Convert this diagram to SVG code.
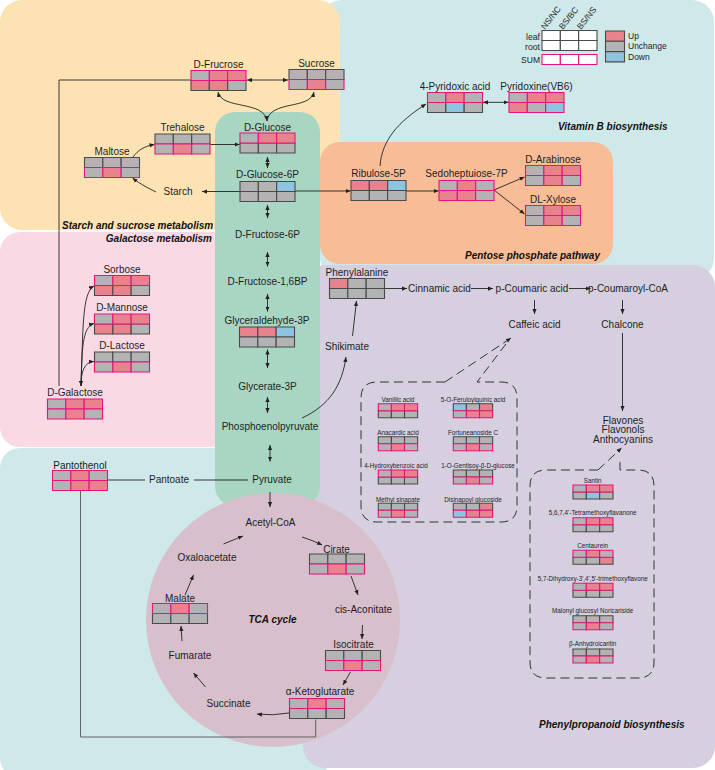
<svg xmlns="http://www.w3.org/2000/svg" width="715" height="770" viewBox="0 0 715 770">
<style>
.t{font-family:"Liberation Sans",Arial,sans-serif;font-size:10px;fill:#1e1e1e;text-anchor:middle}
.s{font-size:6.3px}
.h{font-family:"Liberation Sans",Arial,sans-serif;font-size:10px;font-weight:bold;font-style:italic;fill:#111}
.l{font-family:"Liberation Sans",Arial,sans-serif;font-size:8.5px;fill:#1e1e1e}
rect.g{fill:#b3b3b3}.p{fill:#e8838e}.b{fill:#8ec4df}.w{fill:#fff}
.d rect{stroke:#4a4a4a;stroke-width:1.1;vector-effect:non-scaling-stroke}
.m rect{stroke:#e4157f;stroke-width:1.1;vector-effect:non-scaling-stroke}
.c path{fill:none;stroke:#222;stroke-width:0.9}
.dash path{fill:none;stroke:#333;stroke-width:1;stroke-dasharray:9 5}
</style>
<defs>
<marker id="a" viewBox="0 0 8 8" refX="8" refY="4" markerWidth="5" markerHeight="5" orient="auto-start-reverse" markerUnits="userSpaceOnUse"><path d="M0,0.6 L8,4 L0,7.4 z" fill="#222"/></marker>
</defs>

<!-- background regions -->
<g id="regions">
<rect x="320" y="0" width="394" height="280" rx="22" fill="#cfe8ea"/>
<rect x="0" y="448" width="330" height="330" rx="20" fill="#cfe8ea"/>
<rect x="0" y="0" width="340" height="230" rx="22" fill="#fde2b3"/>
<rect x="0" y="232" width="260" height="215" rx="20" fill="#f8d9e4"/>
<rect x="303" y="265" width="412" height="503" rx="22" fill="#d5cfe0"/>
<rect x="320" y="142" width="293" height="122" rx="20" fill="#f8bc96"/>
<rect x="215" y="112" width="105" height="394" rx="20" fill="#a9d6c3"/>
<circle cx="273" cy="620" r="127" fill="#d7bfcb"/>
</g>

<!-- legend -->
<g id="legend">
<text class="l" font-size="8" transform="translate(545,30) rotate(-52)">NS/NC</text>
<text class="l" font-size="8" transform="translate(563,30) rotate(-52)">BS/BC</text>
<text class="l" font-size="8" transform="translate(581,30) rotate(-52)">BS/NS</text>
<text class="l" x="540" y="39.5" text-anchor="end" font-size="9.5" textLength="14" lengthAdjust="spacingAndGlyphs">leaf</text>
<text class="l" x="540" y="49.5" text-anchor="end" font-size="9.5" textLength="15" lengthAdjust="spacingAndGlyphs">root</text>
<text class="l" x="540" y="62.5" text-anchor="end" font-size="7">SUM</text>
<g class="d"><rect class="w" x="542" y="30.5" width="18.33" height="10"/><rect class="w" x="560.33" y="30.5" width="18.33" height="10"/><rect class="w" x="578.67" y="30.5" width="18.33" height="10"/>
<rect class="w" x="542" y="40.5" width="18.33" height="10"/><rect class="w" x="560.33" y="40.5" width="18.33" height="10"/><rect class="w" x="578.67" y="40.5" width="18.33" height="10"/></g>
<g class="m"><rect class="w" x="542" y="54.5" width="18.33" height="10"/><rect class="w" x="560.33" y="54.5" width="18.33" height="10"/><rect class="w" x="578.67" y="54.5" width="18.33" height="10"/></g>
<g class="d"><rect class="p" x="605.5" y="31" width="19" height="10.3"/><rect class="g" x="605.5" y="41.3" width="19" height="10.3"/><rect class="b" x="605.5" y="51.6" width="19" height="10.3"/></g>
<text class="l" x="628" y="39">Up</text>
<text class="l" x="628" y="49.3">Unchange</text>
<text class="l" x="628" y="59.6">Down</text>
</g>

<!-- section titles -->
<g id="titles">
<text class="h" x="62" y="228.5">Starch and sucrose metabolism</text>
<text class="h" x="212" y="241.5" text-anchor="end">Galactose metabolism</text>
<text class="h" x="600" y="258.5" text-anchor="end">Pentose phosphate pathway</text>
<text class="h" x="558" y="130">Vitamin B biosynthesis</text>
<text class="h" x="539" y="727.5">Phenylpropanoid biosynthesis</text>
<text class="h" x="272.5" y="622.5" text-anchor="middle">TCA cycle</text>
</g>

<!-- connectors -->
<g id="connectors" class="c">
<path d="M247,80 L288,80" marker-start="url(#a)" marker-end="url(#a)"/>
<path d="M267,121 C264,100 222,110 218,92" marker-start="url(#a)" marker-end="url(#a)"/>
<path d="M267,121 C270,100 310,110 314,92" marker-end="url(#a)"/>
<path d="M210.5,144.5 L239.5,144.5" marker-end="url(#a)"/>
<path d="M133,157 C138,150 145,146 154.5,144.5" marker-end="url(#a)"/>
<path d="M267.5,157 L267.5,168" marker-start="url(#a)" marker-end="url(#a)"/>
<path d="M240,191.5 L202,191.5" marker-end="url(#a)"/>
<path d="M295,191 L350.5,191" marker-end="url(#a)"/>
<path d="M406,191 L438.5,191" marker-end="url(#a)"/>
<path d="M156,192 C148,188 140,184 132.5,178" marker-end="url(#a)"/>
<path d="M267.5,205 L267.5,218" marker-start="url(#a)" marker-end="url(#a)"/>
<path d="M267.5,252 L267.5,266.5" marker-start="url(#a)" marker-end="url(#a)"/>
<path d="M267.5,294 L267.5,311.5" marker-start="url(#a)" marker-end="url(#a)"/>
<path d="M267.5,349.5 L267.5,368" marker-start="url(#a)" marker-end="url(#a)"/>
<path d="M267.5,397 L267.5,413" marker-start="url(#a)" marker-end="url(#a)"/>
<path d="M270,445 L270,461.5" marker-start="url(#a)" marker-end="url(#a)"/>
<path d="M302,418 C330,405 342,385 346,357" marker-end="url(#a)"/>
<path d="M352.5,336 L356.5,301" marker-end="url(#a)"/>
<path d="M385,288.5 L407,288.5" marker-end="url(#a)"/>
<path d="M471,288.5 L493,288.5" marker-end="url(#a)"/>
<path d="M569,288.5 L590.5,288.5" marker-end="url(#a)"/>
<path d="M534.5,300 L534.5,314" marker-end="url(#a)"/>
<path d="M622.5,300 L622.5,314" marker-end="url(#a)"/>
<path d="M622.5,333 L622.5,411" marker-end="url(#a)"/>
<path d="M494,190 L524.5,177" marker-end="url(#a)"/>
<path d="M494,190 L524.5,214" marker-end="url(#a)"/>
<path d="M380,166 C382,140 398,122 426,104" marker-end="url(#a)"/>
<path d="M483,102.3 L508.5,102.3" marker-start="url(#a)" marker-end="url(#a)"/>
<path d="M191,80 L59,80 L59,386"/>
<path d="M81,386 C83,330 82,292 94,286" marker-end="url(#a)"/>
<path d="M81,386 C82,350 82,327 94,323.5" marker-end="url(#a)"/>
<path d="M81,386 C81,372 84,362 94,361.5" marker-start="url(#a)" marker-end="url(#a)"/>
<path d="M108,480 L145,480"/>
<path d="M194,480 L248,480"/>
<path d="M270,492 L270,507" marker-end="url(#a)"/>
<path d="M302,537 Q312,540 322,545" marker-end="url(#a)"/>
<path d="M351,576 L358,595" marker-end="url(#a)"/>
<path d="M362.5,625 L362,639" marker-end="url(#a)"/>
<path d="M350.5,672 L343,685" marker-end="url(#a)"/>
<path d="M289,713 Q272,716 257,714" marker-end="url(#a)"/>
<path d="M205.5,687 L193.5,673" marker-end="url(#a)"/>
<path d="M182,641 L181,626" marker-end="url(#a)"/>
<path d="M185,595 L193.5,575" marker-end="url(#a)"/>
<path d="M223.5,544 L243,536" marker-end="url(#a)"/>
<path d="M80.5,491 L80.5,737 L315.7,737 L315.7,719.5" style="stroke:#555"/>
</g>
<g id="callouts" class="dash">
<path d="M445,382 L377,382 Q361,382 361,398 L361,506 Q361,522 377,522 L501,522 Q517,522 517,506 L517,398 Q517,382 501,382 L477,382 L509,340"/>
<path d="M445,382 L511,338" marker-end="url(#a)"/>
<path d="M598,470 L546,470 Q530,470 530,486 L530,662 Q530,678 546,678 L638,678 Q654,678 654,662 L654,486 Q654,470 638,470 L620,470 L620,461"/>
<path d="M598,470 L621.5,448" marker-end="url(#a)"/>
</g>

<!-- plain text nodes -->
<g id="n-starch"><text class="t" x="178" y="195">Starch</text></g>
<g id="n-fru6p"><text class="t" x="267.5" y="237.5">D-Fructose-6P</text></g>
<g id="n-fru16bp"><text class="t" x="267.5" y="285">D-Fructose-1,6BP</text></g>
<g id="n-glycerate"><text class="t" x="267.5" y="389.5">Glycerate-3P</text></g>
<g id="n-pep"><text class="t" x="270" y="430">Phosphoenolpyruvate</text></g>
<g id="n-pyruvate"><text class="t" x="272" y="482.5">Pyruvate</text></g>
<g id="n-pantoate"><text class="t" x="169" y="483">Pantoate</text></g>
<g id="n-acetyl"><text class="t" x="270.5" y="526">Acetyl-CoA</text></g>
<g id="n-cisacon"><text class="t" x="363.5" y="613">cis-Aconitate</text></g>
<g id="n-succinate"><text class="t" x="228.5" y="707">Succinate</text></g>
<g id="n-fumarate"><text class="t" x="190" y="659">Fumarate</text></g>
<g id="n-oxalo"><text class="t" x="207" y="561">Oxaloacetate</text></g>
<g id="n-shikimate"><text class="t" x="347" y="349.5">Shikimate</text></g>
<g id="n-cinnamic"><text class="t" x="439.5" y="292">Cinnamic acid</text></g>
<g id="n-pcoumaric"><text class="t" x="532" y="292">p-Coumaric acid</text></g>
<g id="n-pcoumaroyl"><text class="t" x="628" y="292">p-Coumaroyl-CoA</text></g>
<g id="n-caffeic"><text class="t" x="534.5" y="327.5">Caffeic acid</text></g>
<g id="n-chalcone"><text class="t" x="622.5" y="327.5">Chalcone</text></g>
<g id="n-flav"><text class="t" x="623" y="423.5">Flavones</text><text class="t" x="623" y="433">Flavonols</text><text class="t" x="623" y="442.5">Anthocyanins</text></g>

<!-- boxed nodes (large) -->
<g id="n-dfrucrose"><text class="t" x="218.5" y="67.5">D-Frucrose</text>
<g transform="translate(191,70.5)"><g class="d"><rect class="p" y="10" width="18.33" height="10"/><rect class="p" x="18.33" y="10" width="18.33" height="10"/><rect class="g" x="36.67" y="10" width="18.33" height="10"/></g><g class="m"><rect class="g" width="18.33" height="10"/><rect class="p" x="18.33" width="18.33" height="10"/><rect class="p" x="36.67" width="18.33" height="10"/></g></g></g>

<g id="n-sucrose"><text class="t" x="316.5" y="67">Sucrose</text>
<g transform="translate(289,69.5)"><g class="d"><rect class="g" width="18.33" height="10"/><rect class="g" x="18.33" width="18.33" height="10"/><rect class="g" x="36.67" width="18.33" height="10"/></g><g class="m"><rect class="g" y="10" width="18.33" height="10"/><rect class="p" x="18.33" y="10" width="18.33" height="10"/><rect class="g" x="36.67" y="10" width="18.33" height="10"/></g></g></g>

<g id="n-dglucose"><text class="t" x="267.5" y="130.5">D-Glucose</text>
<g transform="translate(240,133)"><g class="d"><rect class="g" y="10" width="18.33" height="10"/><rect class="g" x="18.33" y="10" width="18.33" height="10"/><rect class="g" x="36.67" y="10" width="18.33" height="10"/></g><g class="m"><rect class="g" width="18.33" height="10"/><rect class="p" x="18.33" width="18.33" height="10"/><rect class="p" x="36.67" width="18.33" height="10"/></g></g></g>

<g id="n-trehalose"><text class="t" x="182.5" y="131">Trehalose</text>
<g transform="translate(155,134)"><g class="d"><rect class="g" width="18.33" height="10"/><rect class="g" x="18.33" width="18.33" height="10"/><rect class="g" x="36.67" width="18.33" height="10"/></g><g class="m"><rect class="g" y="10" width="18.33" height="10"/><rect class="p" x="18.33" y="10" width="18.33" height="10"/><rect class="g" x="36.67" y="10" width="18.33" height="10"/></g></g></g>

<g id="n-maltose"><text class="t" x="112" y="154.5">Maltose</text>
<g transform="translate(84.5,157.5)"><g class="d"><rect class="g" width="18.33" height="10"/><rect class="g" x="18.33" width="18.33" height="10"/><rect class="g" x="36.67" width="18.33" height="10"/></g><g class="m"><rect class="g" y="10" width="18.33" height="10"/><rect class="p" x="18.33" y="10" width="18.33" height="10"/><rect class="g" x="36.67" y="10" width="18.33" height="10"/></g></g></g>

<g id="n-glc6p"><text class="t" x="267.5" y="177.5">D-Glucose-6P</text>
<g transform="translate(240,181.5)"><g class="d"><rect class="g" width="18.33" height="10"/><rect class="g" x="18.33" width="18.33" height="10"/><rect class="b" x="36.67" width="18.33" height="10"/><rect class="g" y="10" width="18.33" height="10"/><rect class="g" x="18.33" y="10" width="18.33" height="10"/><rect class="g" x="36.67" y="10" width="18.33" height="10"/></g></g></g>

<g id="n-sorbose"><text class="t" x="122" y="272.5">Sorbose</text>
<g transform="translate(94.5,275.5)"><g class="d"><rect class="p" y="10" width="18.33" height="10"/><rect class="p" x="18.33" y="10" width="18.33" height="10"/><rect class="g" x="36.67" y="10" width="18.33" height="10"/></g><g class="m"><rect class="g" width="18.33" height="10"/><rect class="p" x="18.33" width="18.33" height="10"/><rect class="p" x="36.67" width="18.33" height="10"/></g></g></g>

<g id="n-dmannose"><text class="t" x="122" y="310.5">D-Mannose</text>
<g transform="translate(94.5,314)"><g class="d"><rect class="p" y="10" width="18.33" height="10"/><rect class="p" x="18.33" y="10" width="18.33" height="10"/><rect class="g" x="36.67" y="10" width="18.33" height="10"/></g><g class="m"><rect class="g" width="18.33" height="10"/><rect class="p" x="18.33" width="18.33" height="10"/><rect class="p" x="36.67" width="18.33" height="10"/></g></g></g>

<g id="n-dlactose"><text class="t" x="122" y="349">D-Lactose</text>
<g transform="translate(94.5,352)"><g class="d"><rect class="g" width="18.33" height="10"/><rect class="g" x="18.33" width="18.33" height="10"/><rect class="g" x="36.67" width="18.33" height="10"/></g><g class="m"><rect class="g" y="10" width="18.33" height="10"/><rect class="p" x="18.33" y="10" width="18.33" height="10"/><rect class="g" x="36.67" y="10" width="18.33" height="10"/></g></g></g>

<g id="n-dgalactose"><text class="t" x="75" y="395.5">D-Galactose</text>
<g transform="translate(47.5,399)"><g class="m"><rect class="g" width="18.33" height="10"/><rect class="p" x="18.33" width="18.33" height="10"/><rect class="p" x="36.67" width="18.33" height="10"/><rect class="g" y="10" width="18.33" height="10"/><rect class="p" x="18.33" y="10" width="18.33" height="10"/><rect class="g" x="36.67" y="10" width="18.33" height="10"/></g></g></g>

<g id="n-g3p"><text class="t" x="267" y="324">Glyceraldehyde-3P</text>
<g transform="translate(239.5,327)"><g class="d"><rect class="p" width="18.33" height="10"/><rect class="p" x="18.33" width="18.33" height="10"/><rect class="b" x="36.67" width="18.33" height="10"/><rect class="g" y="10" width="18.33" height="10"/><rect class="g" x="18.33" y="10" width="18.33" height="10"/><rect class="g" x="36.67" y="10" width="18.33" height="10"/></g></g></g>

<g id="n-ribulose"><text class="t" x="378.5" y="177">Ribulose-5P</text>
<g transform="translate(351,180.5)"><g class="d"><rect class="p" width="18.33" height="10"/><rect class="p" x="18.33" width="18.33" height="10"/><rect class="b" x="36.67" width="18.33" height="10"/><rect class="g" y="10" width="18.33" height="10"/><rect class="g" x="18.33" y="10" width="18.33" height="10"/><rect class="g" x="36.67" y="10" width="18.33" height="10"/></g></g></g>

<g id="n-sedo"><text class="t" x="466.5" y="177">Sedoheptuiose-7P</text>
<g transform="translate(439,180.5)"><g class="m"><rect class="g" width="18.33" height="10"/><rect class="p" x="18.33" width="18.33" height="10"/><rect class="g" x="36.67" width="18.33" height="10"/><rect class="p" y="10" width="18.33" height="10"/><rect class="p" x="18.33" y="10" width="18.33" height="10"/><rect class="g" x="36.67" y="10" width="18.33" height="10"/></g></g></g>

<g id="n-arabinose"><text class="t" x="553" y="162.5">D-Arabinose</text>
<g transform="translate(525.5,165.5)"><g class="m"><rect class="g" width="18.33" height="10"/><rect class="p" x="18.33" width="18.33" height="10"/><rect class="p" x="36.67" width="18.33" height="10"/><rect class="g" y="10" width="18.33" height="10"/><rect class="p" x="18.33" y="10" width="18.33" height="10"/><rect class="g" x="36.67" y="10" width="18.33" height="10"/></g></g></g>

<g id="n-xylose"><text class="t" x="553" y="202.5">DL-Xylose</text>
<g transform="translate(525.5,205.5)"><g class="m"><rect class="g" width="18.33" height="10"/><rect class="p" x="18.33" width="18.33" height="10"/><rect class="p" x="36.67" width="18.33" height="10"/><rect class="g" y="10" width="18.33" height="10"/><rect class="p" x="18.33" y="10" width="18.33" height="10"/><rect class="g" x="36.67" y="10" width="18.33" height="10"/></g></g></g>

<g id="n-pyridoxic"><text class="t" x="455" y="90">4-Pyridoxic acid</text>
<g transform="translate(427.5,92.5)"><g class="d"><rect class="g" y="10" width="18.33" height="10"/><rect class="b" x="18.33" y="10" width="18.33" height="10"/><rect class="g" x="36.67" y="10" width="18.33" height="10"/></g><g class="m"><rect class="g" width="18.33" height="10"/><rect class="p" x="18.33" width="18.33" height="10"/><rect class="g" x="36.67" width="18.33" height="10"/></g></g></g>

<g id="n-pyridoxine"><text class="t" x="536.5" y="90">Pyridoxine(VB6)</text>
<g transform="translate(509,92.5)"><g class="m"><rect class="g" width="18.33" height="10"/><rect class="p" x="18.33" width="18.33" height="10"/><rect class="p" x="36.67" width="18.33" height="10"/><rect class="p" y="10" width="18.33" height="10"/><rect class="g" x="18.33" y="10" width="18.33" height="10"/><rect class="b" x="36.67" y="10" width="18.33" height="10"/></g></g></g>

<g id="n-phe"><text class="t" x="357" y="276">Phenylalanine</text>
<g transform="translate(329.5,278.5)"><g class="d"><rect class="p" width="18.33" height="10"/><rect class="g" x="18.33" width="18.33" height="10"/><rect class="g" x="36.67" width="18.33" height="10"/><rect class="g" y="10" width="18.33" height="10"/><rect class="g" x="18.33" y="10" width="18.33" height="10"/><rect class="g" x="36.67" y="10" width="18.33" height="10"/></g></g></g>

<g id="n-pantothenol"><text class="t" x="80" y="469">Pantothenol</text>
<g transform="translate(52.5,470.5)"><g class="m"><rect class="g" width="18.33" height="10"/><rect class="p" x="18.33" width="18.33" height="10"/><rect class="g" x="36.67" width="18.33" height="10"/><rect class="g" y="10" width="18.33" height="10"/><rect class="p" x="18.33" y="10" width="18.33" height="10"/><rect class="p" x="36.67" y="10" width="18.33" height="10"/></g></g></g>

<g id="n-cirate"><text class="t" x="336.5" y="552.5">Cirate</text>
<g transform="translate(309.5,554)"><g class="d"><rect class="g" width="18.33" height="10"/><rect class="g" x="18.33" width="18.33" height="10"/><rect class="g" x="36.67" width="18.33" height="10"/></g><g class="m"><rect class="g" y="10" width="18.33" height="10"/><rect class="p" x="18.33" y="10" width="18.33" height="10"/><rect class="g" x="36.67" y="10" width="18.33" height="10"/></g></g></g>

<g id="n-isocitrate"><text class="t" x="353.5" y="647.5">Isocitrate</text>
<g transform="translate(325.5,650.5)"><g class="d"><rect class="g" width="18.33" height="10"/><rect class="g" x="18.33" width="18.33" height="10"/><rect class="g" x="36.67" width="18.33" height="10"/></g><g class="m"><rect class="g" y="10" width="18.33" height="10"/><rect class="p" x="18.33" y="10" width="18.33" height="10"/><rect class="g" x="36.67" y="10" width="18.33" height="10"/></g></g></g>

<g id="n-akg"><text class="t" x="320" y="695">α-Ketoglutarate</text>
<g transform="translate(289.5,698.5)"><g class="d"><rect class="g" y="10" width="18.33" height="10"/><rect class="g" x="18.33" y="10" width="18.33" height="10"/><rect class="g" x="36.67" y="10" width="18.33" height="10"/></g><g class="m"><rect class="g" width="18.33" height="10"/><rect class="p" x="18.33" width="18.33" height="10"/><rect class="g" x="36.67" width="18.33" height="10"/></g></g></g>

<g id="n-malate"><text class="t" x="180" y="601.5">Malate</text>
<g transform="translate(152.5,603.5)"><g class="d"><rect class="g" y="10" width="18.33" height="10"/><rect class="g" x="18.33" y="10" width="18.33" height="10"/><rect class="g" x="36.67" y="10" width="18.33" height="10"/></g><g class="m"><rect class="g" width="18.33" height="10"/><rect class="p" x="18.33" width="18.33" height="10"/><rect class="g" x="36.67" width="18.33" height="10"/></g></g></g>

<!-- small boxed nodes (phenolic acids) -->
<g id="n-vanillic"><text class="t s" x="398" y="402">Vanillic acid</text>
<g transform="translate(378.3,403.7) scale(0.715,0.7)"><g class="d"><rect class="g" y="10" width="18.33" height="10"/><rect class="g" x="18.33" y="10" width="18.33" height="10"/><rect class="g" x="36.67" y="10" width="18.33" height="10"/></g><g class="m"><rect class="g" width="18.33" height="10"/><rect class="p" x="18.33" width="18.33" height="10"/><rect class="p" x="36.67" width="18.33" height="10"/></g></g></g>

<g id="n-feruloyl"><text class="t s" x="473" y="402">5-O-Feruloylquinic acid</text>
<g transform="translate(453.3,403.7) scale(0.715,0.7)"><g class="d"><rect class="b" width="18.33" height="10"/><rect class="g" x="18.33" width="18.33" height="10"/><rect class="p" x="36.67" width="18.33" height="10"/></g><g class="m"><rect class="g" y="10" width="18.33" height="10"/><rect class="p" x="18.33" y="10" width="18.33" height="10"/><rect class="p" x="36.67" y="10" width="18.33" height="10"/></g></g></g>

<g id="n-anacardic"><text class="t s" x="398" y="434.5">Anacardic acid</text>
<g transform="translate(378.3,436.7) scale(0.715,0.7)"><g class="d"><rect class="g" width="18.33" height="10"/><rect class="g" x="18.33" width="18.33" height="10"/><rect class="g" x="36.67" width="18.33" height="10"/></g><g class="m"><rect class="g" y="10" width="18.33" height="10"/><rect class="p" x="18.33" y="10" width="18.33" height="10"/><rect class="g" x="36.67" y="10" width="18.33" height="10"/></g></g></g>

<g id="n-fortuneanoside"><text class="t s" x="473" y="434.5">Fortuneanoside C</text>
<g transform="translate(453.3,436.7) scale(0.715,0.7)"><g class="d"><rect class="g" width="18.33" height="10"/><rect class="g" x="18.33" width="18.33" height="10"/><rect class="g" x="36.67" width="18.33" height="10"/></g><g class="m"><rect class="g" y="10" width="18.33" height="10"/><rect class="p" x="18.33" y="10" width="18.33" height="10"/><rect class="g" x="36.67" y="10" width="18.33" height="10"/></g></g></g>

<g id="n-hydroxybenzoic"><text class="t s" x="396" y="467.5">4-Hydroxybenzoic acid</text>
<g transform="translate(378.3,470) scale(0.715,0.7)"><g class="d"><rect class="g" y="10" width="18.33" height="10"/><rect class="g" x="18.33" y="10" width="18.33" height="10"/><rect class="g" x="36.67" y="10" width="18.33" height="10"/></g><g class="m"><rect class="g" width="18.33" height="10"/><rect class="p" x="18.33" width="18.33" height="10"/><rect class="p" x="36.67" width="18.33" height="10"/></g></g></g>

<g id="n-gentisoy"><text class="t s" x="478" y="467.5">1-O-Gentisoy-β-D-glucose</text>
<g transform="translate(453.3,470) scale(0.715,0.7)"><g class="d"><rect class="g" width="18.33" height="10"/><rect class="g" x="18.33" width="18.33" height="10"/><rect class="g" x="36.67" width="18.33" height="10"/></g><g class="m"><rect class="g" y="10" width="18.33" height="10"/><rect class="p" x="18.33" y="10" width="18.33" height="10"/><rect class="g" x="36.67" y="10" width="18.33" height="10"/></g></g></g>

<g id="n-methylsinapate"><text class="t s" x="398" y="501.5">Methyl sinapate</text>
<g transform="translate(378.3,503.3) scale(0.715,0.7)"><g class="d"><rect class="g" width="18.33" height="10"/><rect class="g" x="18.33" width="18.33" height="10"/><rect class="g" x="36.67" width="18.33" height="10"/></g><g class="m"><rect class="g" y="10" width="18.33" height="10"/><rect class="p" x="18.33" y="10" width="18.33" height="10"/><rect class="g" x="36.67" y="10" width="18.33" height="10"/></g></g></g>

<g id="n-disinapoyl"><text class="t s" x="473" y="501.5">Disinapoyl glucoside</text>
<g transform="translate(453.3,503.3) scale(0.715,0.7)"><g class="d"><rect class="g" width="18.33" height="10"/><rect class="g" x="18.33" width="18.33" height="10"/><rect class="p" x="36.67" width="18.33" height="10"/></g><g class="m"><rect class="b" y="10" width="18.33" height="10"/><rect class="p" x="18.33" y="10" width="18.33" height="10"/><rect class="p" x="36.67" y="10" width="18.33" height="10"/></g></g></g>

<!-- small boxed nodes (flavonoids) -->
<g id="n-santin"><text class="t s" x="592.7" y="482.5">Santin</text>
<g transform="translate(573,485) scale(0.727,0.7)"><g class="d"><rect class="g" y="10" width="18.33" height="10"/><rect class="b" x="18.33" y="10" width="18.33" height="10"/><rect class="g" x="36.67" y="10" width="18.33" height="10"/></g><g class="m"><rect class="g" width="18.33" height="10"/><rect class="p" x="18.33" width="18.33" height="10"/><rect class="p" x="36.67" width="18.33" height="10"/></g></g></g>

<g id="n-tetramethoxy"><text class="t s" x="592.7" y="515">5,6,7,4'-Tetramethoxyflavanone</text>
<g transform="translate(573,517.7) scale(0.727,0.7)"><g class="d"><rect class="g" y="10" width="18.33" height="10"/><rect class="g" x="18.33" y="10" width="18.33" height="10"/><rect class="g" x="36.67" y="10" width="18.33" height="10"/></g><g class="m"><rect class="g" width="18.33" height="10"/><rect class="p" x="18.33" width="18.33" height="10"/><rect class="p" x="36.67" width="18.33" height="10"/></g></g></g>

<g id="n-centaurein"><text class="t s" x="592.7" y="548">Centaurein</text>
<g transform="translate(573,550.3) scale(0.727,0.7)"><g class="d"><rect class="g" y="10" width="18.33" height="10"/><rect class="g" x="18.33" y="10" width="18.33" height="10"/><rect class="p" x="36.67" y="10" width="18.33" height="10"/></g><g class="m"><rect class="g" width="18.33" height="10"/><rect class="p" x="18.33" width="18.33" height="10"/><rect class="g" x="36.67" width="18.33" height="10"/></g></g></g>

<g id="n-dihydroxy"><text class="t s" x="592.7" y="580.6">5,7-Dihydroxy-3',4',5'-trimethoxyflavone</text>
<g transform="translate(573,583.3) scale(0.727,0.7)"><g class="d"><rect class="g" y="10" width="18.33" height="10"/><rect class="g" x="18.33" y="10" width="18.33" height="10"/><rect class="g" x="36.67" y="10" width="18.33" height="10"/></g><g class="m"><rect class="g" width="18.33" height="10"/><rect class="p" x="18.33" width="18.33" height="10"/><rect class="p" x="36.67" width="18.33" height="10"/></g></g></g>

<g id="n-malonyl"><text class="t s" x="592.7" y="613">Malonyl glucosyl Noricariside</text>
<g transform="translate(573,615.7) scale(0.727,0.7)"><g class="d"><rect class="g" width="18.33" height="10"/><rect class="g" x="18.33" width="18.33" height="10"/><rect class="g" x="36.67" width="18.33" height="10"/></g><g class="m"><rect class="g" y="10" width="18.33" height="10"/><rect class="p" x="18.33" y="10" width="18.33" height="10"/><rect class="g" x="36.67" y="10" width="18.33" height="10"/></g></g></g>

<g id="n-anhydroicaritin"><text class="t s" x="592.7" y="646.3">β-Anhydroicaritin</text>
<g transform="translate(573,649) scale(0.727,0.7)"><g class="d"><rect class="g" width="18.33" height="10"/><rect class="g" x="18.33" width="18.33" height="10"/><rect class="g" x="36.67" width="18.33" height="10"/></g><g class="m"><rect class="g" y="10" width="18.33" height="10"/><rect class="p" x="18.33" y="10" width="18.33" height="10"/><rect class="g" x="36.67" y="10" width="18.33" height="10"/></g></g></g>
</svg>
